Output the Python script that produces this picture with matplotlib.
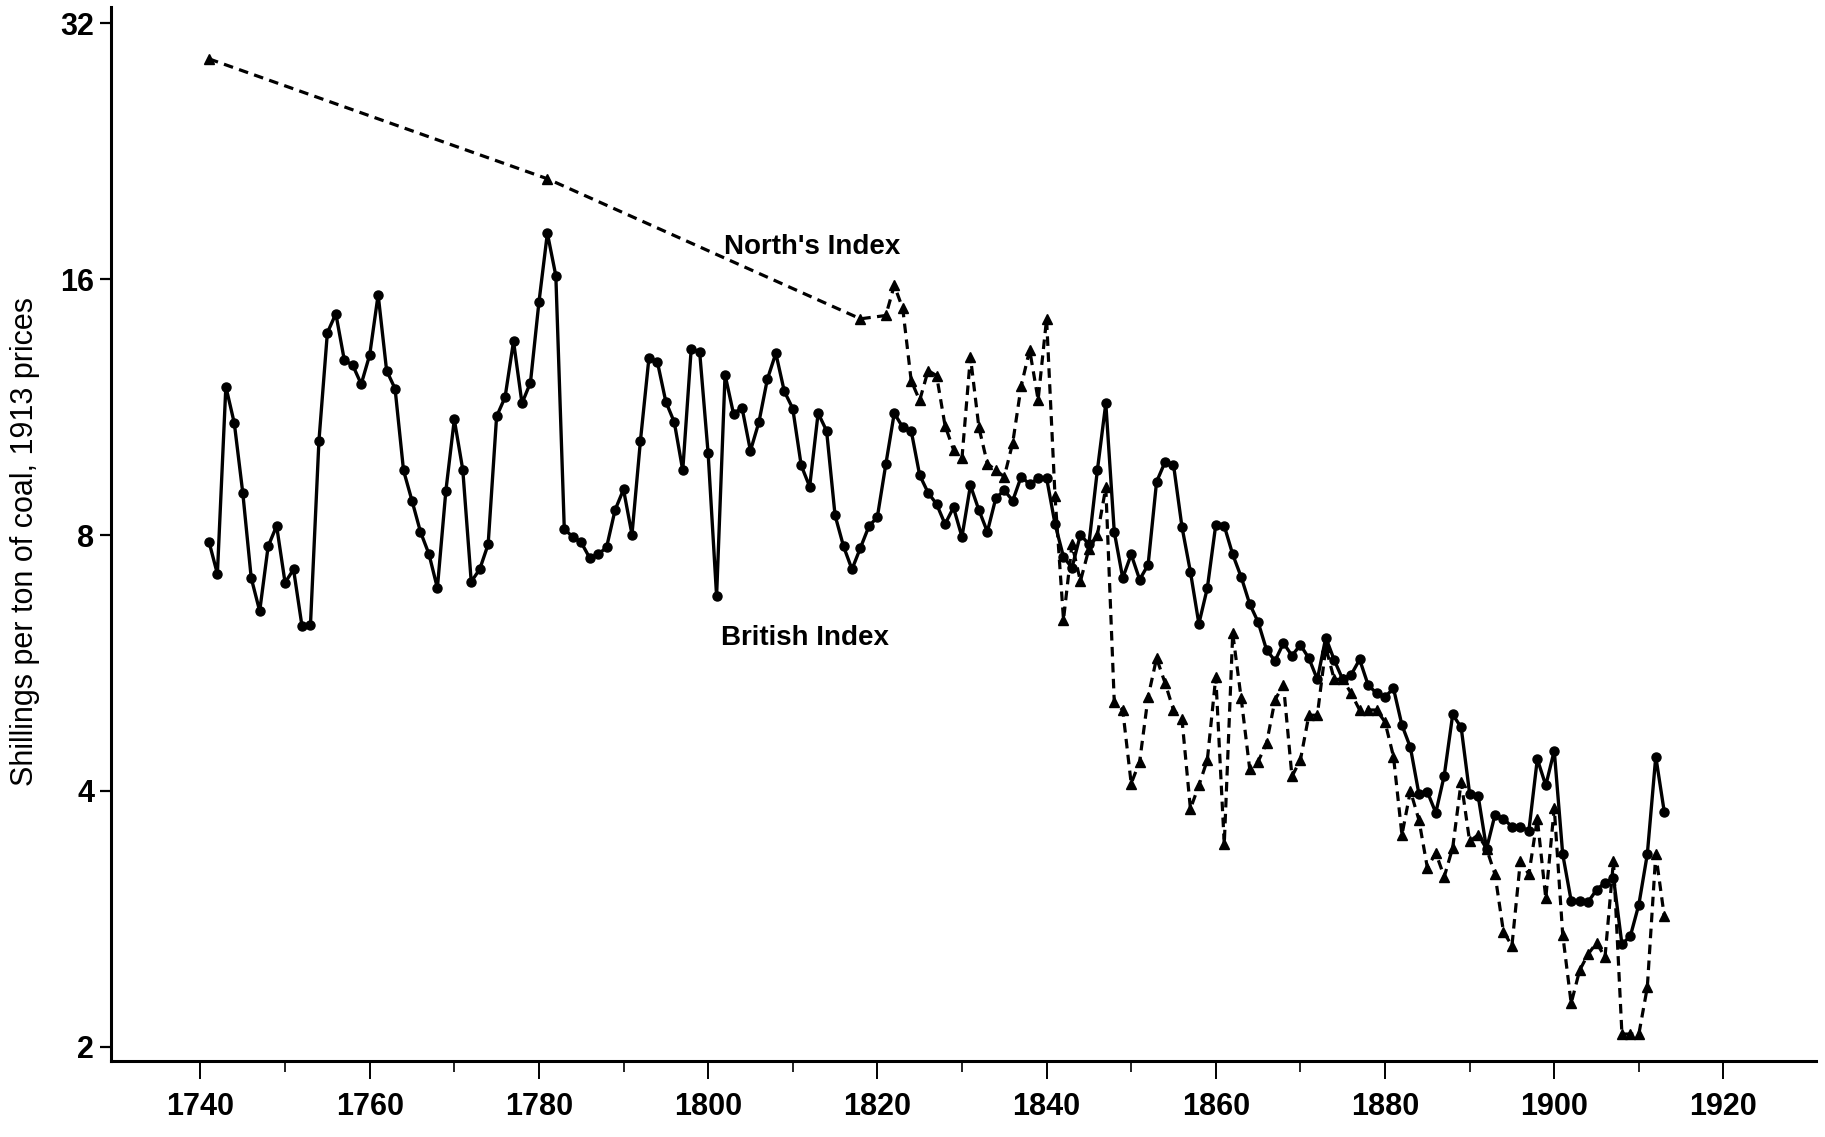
import matplotlib
matplotlib.use("Agg")
import matplotlib.pyplot as plt
from matplotlib.ticker import FixedLocator, FixedFormatter, NullLocator

# ---------------- data ----------------
british_years = list(range(1741, 1914))
british_values = [
    7.86, 7.20, 11.96, 10.83, 8.97, 7.12, 6.51, 7.76, 8.20, 7.03,      # 1741-1750
    7.29, 6.25, 6.27, 10.32, 13.84, 14.57, 12.85, 12.67, 12.04, 13.03,  # 1751-1760
    15.34, 12.49, 11.89, 9.53, 8.78, 8.07, 7.60, 6.93, 9.01, 10.94,     # 1761-1770
    9.55, 7.05, 7.29, 7.80, 11.03, 11.62, 13.52, 11.43, 12.09, 15.02,   # 1771-1780
    18.12, 16.15, 8.13, 7.96, 7.84, 7.52, 7.59, 7.74, 8.56, 9.05,       # 1781-1790
    8.01, 10.33, 12.91, 12.79, 11.48, 10.86, 9.53, 13.25, 13.13, 9.98,  # 1791-1800
    6.78, 12.35, 11.11, 11.30, 10.05, 10.86, 12.20, 13.09, 11.81, 11.27,  # 1801-1810
    9.66, 9.12, 11.13, 10.61, 8.44, 7.76, 7.29, 7.73, 8.19, 8.40,       # 1811-1820
    9.69, 11.13, 10.71, 10.61, 9.41, 8.97, 8.70, 8.24, 8.62, 7.96,      # 1821-1830
    9.15, 8.56, 8.07, 8.84, 9.03, 8.78, 9.37, 9.18, 9.33, 9.34,         # 1831-1840
    8.24, 7.54, 7.32, 8.01, 7.80, 9.53, 11.43, 8.07, 7.12, 7.59,        # 1841-1850
    7.09, 7.38, 9.24, 9.75, 9.68, 8.18, 7.24, 6.29, 6.93, 8.23,         # 1851-1860
    8.20, 7.59, 7.14, 6.64, 6.32, 5.86, 5.69, 5.97, 5.77, 5.94,         # 1861-1870
    5.73, 5.41, 6.06, 5.70, 5.41, 5.48, 5.71, 5.33, 5.21, 5.16,         # 1871-1880
    5.28, 4.78, 4.50, 3.97, 3.99, 3.77, 4.17, 4.92, 4.75, 3.97,         # 1881-1890
    3.95, 3.42, 3.75, 3.71, 3.63, 3.63, 3.59, 4.36, 4.06, 4.46,         # 1891-1900
    3.37, 2.97, 2.97, 2.96, 3.06, 3.12, 3.16, 2.64, 2.70, 2.94,         # 1901-1910
    3.37, 4.39, 3.78,                                                   # 1911-1913
]

north_years = [1741, 1781, 1818] + list(range(1821, 1914))
north_values = [
    29.06, 21.0, 14.37,                                                 # 1741, 1781, 1818
    14.50, 15.73, 14.78, 12.15, 11.52, 12.49, 12.32, 10.76, 10.08, 9.85,  # 1821-1830
    12.97, 10.71, 9.71, 9.53, 9.37, 10.27, 11.98, 13.21, 11.54, 14.37,  # 1831-1840
    8.88, 6.36, 7.80, 7.06, 7.70, 8.00, 9.10, 5.09, 4.98, 4.08,         # 1841-1850
    4.33, 5.16, 5.73, 5.36, 4.98, 4.86, 3.81, 4.06, 4.35, 5.45,         # 1851-1860
    3.46, 6.13, 5.14, 4.25, 4.33, 4.55, 5.12, 5.33, 4.16, 4.35,         # 1861-1870
    4.91, 4.91, 5.90, 5.41, 5.41, 5.21, 4.98, 4.98, 4.98, 4.82,         # 1871-1880
    4.39, 3.55, 4.00, 3.70, 3.25, 3.38, 3.17, 3.43, 4.10, 3.49,         # 1881-1890
    3.55, 3.42, 3.19, 2.73, 2.63, 3.31, 3.19, 3.71, 2.99, 3.82,         # 1891-1900
    2.71, 2.25, 2.46, 2.57, 2.65, 2.55, 3.31, 2.07, 2.07, 2.07,         # 1901-1910
    2.35, 3.37, 2.85,                                                   # 1911-1913
]

y_ticks = [2, 4, 8, 16, 32]
y_tick_labels = ["2", "4", "8", "16", "32"]
x_major_ticks = [1740, 1760, 1780, 1800, 1820, 1840, 1860, 1880, 1900, 1920]
x_minor_ticks = [1750, 1770, 1790, 1810, 1830, 1850, 1870, 1890, 1910]

y_label = "Shillings per ton of coal, 1913 prices"
north_label = "North's Index"
british_label = "British Index"

# ---------------- figure ----------------
plt.rcParams['font.family'] = ['Liberation Sans', 'DejaVu Sans']

fig = plt.figure(figsize=(18.25, 11.37), dpi=100)
ax = fig.add_axes([0.0607, 0.0668, 0.9342, 0.9273])

ax.plot(british_years, british_values, color='black', lw=2.4,
        marker='o', markersize=6.5, markerfacecolor='black',
        markeredgecolor='black', zorder=3)
ax.plot(north_years, north_values, color='black', lw=2.3, linestyle=(0, (3.0, 2.0)),
        marker='^', markersize=7.5, markerfacecolor='black',
        markeredgecolor='black', zorder=2)

ax.set_yscale('log', base=2)
ax.set_ylim(1.924, 33.47)
ax.set_xlim(1729.4, 1930.9)

ax.yaxis.set_major_locator(FixedLocator(y_ticks))
ax.yaxis.set_major_formatter(FixedFormatter(y_tick_labels))
ax.yaxis.set_minor_locator(NullLocator())
ax.xaxis.set_major_locator(FixedLocator(x_major_ticks))
ax.xaxis.set_minor_locator(FixedLocator(x_minor_ticks))

for s in ['top', 'right']:
    ax.spines[s].set_visible(False)
for s in ['left', 'bottom']:
    ax.spines[s].set_linewidth(2.2)
    ax.spines[s].set_color('black')

ax.tick_params(axis='y', which='major', direction='out', length=8, width=1.6,
               labelsize=22, pad=4)
ax.tick_params(axis='x', which='major', direction='out', length=13, width=1.4,
               labelsize=22, pad=9)
ax.tick_params(axis='x', which='minor', direction='out', length=8, width=1.2)
for lbl in ax.get_xticklabels() + ax.get_yticklabels():
    lbl.set_fontweight('bold')

ax.set_ylabel(y_label, fontsize=22)
ax.yaxis.set_label_coords(-0.0505, 0.493)
ax.yaxis.label.set_verticalalignment('center')

ax.text(0.4111, 0.7725, north_label, transform=ax.transAxes, fontsize=20,
        fontweight='bold', ha='center', va='center')
ax.text(0.4072, 0.4017, british_label, transform=ax.transAxes, fontsize=20,
        fontweight='bold', ha='center', va='center')

fig.savefig('out.png', dpi=100, facecolor='white')
